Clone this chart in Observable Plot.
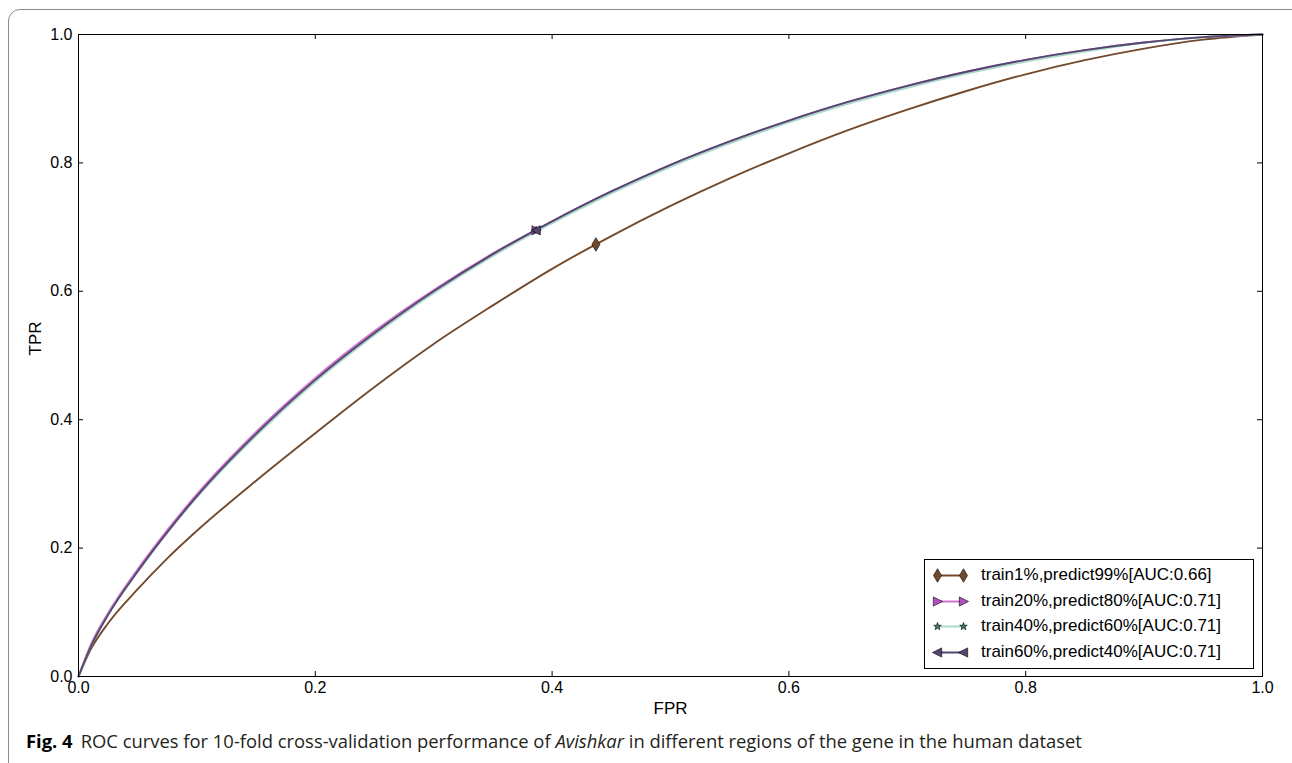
<!DOCTYPE html>
<html>
<head>
<meta charset="utf-8">
<script src="https://cdn.jsdelivr.net/npm/d3@7"></script>
<script src="https://cdn.jsdelivr.net/npm/@observablehq/plot@0.6"></script>
<style>
  html, body { margin: 0; padding: 0; background: #fff; overflow: hidden; }
  #page { position: relative; width: 1292px; height: 763px; overflow: hidden; }
  #border { position: absolute; left: 8px; top: 9px; width: 1320px; height: 800px;
            border: 1.5px solid #8a8a8a; border-radius: 12px; box-sizing: border-box; }
  #chart { position: absolute; left: 0; top: 0; }
  #legend { position: absolute; left: 924px; top: 559px; width: 330px; height: 110px;
            box-sizing: border-box; border: 1px solid #000; background: #fff;
            font-family: "Liberation Sans", Arial, sans-serif; font-size: 17px; color: #000; }
  .row { position: absolute; left: 8px; height: 20px; display: flex; align-items: center; }
  .row svg { margin-right: 14px; }
  #caption { position: absolute; left: 26px; top: 728px; font-family: "Open Sans", "Noto Sans", sans-serif;
             font-size: 18.4px; line-height: 25px; color: #231f20; white-space: nowrap; }
  #caption b { font-weight: 700; color: #000; margin-right: 8px; }
</style>
</head>
<body>
<div id="page">
  <div id="border"></div>
  <div id="chart"></div>
  <div id="legend"></div>
  <div id="caption"><b>Fig. 4</b>ROC curves for 10-fold cross-validation performance of <i>Avishkar</i> in different regions of the gene in the human dataset</div>
</div>
<script>
// ---- data ----
const seriesNames = [
  "train1%,predict99%[AUC:0.66]",
  "train20%,predict80%[AUC:0.71]",
  "train40%,predict60%[AUC:0.71]",
  "train60%,predict40%[AUC:0.71]"
];
const fprGrid = [0, 0.01, 0.025, 0.05, 0.075, 0.1, 0.15, 0.2, 0.25, 0.3, 0.35, 0.4, 0.45, 0.5, 0.55, 0.6, 0.65, 0.7, 0.75, 0.8, 0.85, 0.9, 0.95, 1];

const tpr1 = [0, 0.041, 0.083, 0.136, 0.184, 0.227, 0.305, 0.379, 0.451, 0.518, 0.578, 0.635, 0.686, 0.733, 0.776, 0.815, 0.851, 0.883, 0.912, 0.938, 0.960, 0.978, 0.992, 1];
const tpr2 = [0, 0.048, 0.099, 0.167, 0.228, 0.284, 0.381, 0.465, 0.538, 0.602, 0.659, 0.709, 0.7555, 0.797, 0.8335, 0.866, 0.895, 0.920, 0.942, 0.9605, 0.9756, 0.9875, 0.9959, 1];
const tpr3 = [0, 0.045, 0.096, 0.163, 0.224, 0.279, 0.375, 0.459, 0.532, 0.597, 0.655, 0.706, 0.7525, 0.794, 0.8305, 0.863, 0.892, 0.917, 0.939, 0.9578, 0.9735, 0.9870, 0.9957, 1];
const tpr4 = [0, 0.045, 0.096, 0.164, 0.225, 0.281, 0.378, 0.462, 0.535, 0.600, 0.658, 0.709, 0.7555, 0.797, 0.8335, 0.866, 0.895, 0.920, 0.942, 0.9605, 0.9756, 0.9875, 0.9959, 1];

const markerFpr = [0.437, 0.3865, 0.3865, 0.3865];
const markerTpr = [0.673, 0.695, 0.695, 0.695];

const xTicks = [0, 0.2, 0.4, 0.6, 0.8, 1.0];
const yTicks = [0, 0.2, 0.4, 0.6, 0.8, 1.0];

// ---- styles ----
const lineColors = ["#734a2c", "#d271d2", "#a9d9c9", "#54466f"];
const markerFill = ["#734a2c", "#b54cc4", "#3f7a66", "#54466f"];

// custom marker shapes
const thinDiamond = { draw(c, size) { const s = Math.sqrt(size / Math.PI);
  c.moveTo(0, -1.7 * s); c.lineTo(1.0 * s, 0); c.lineTo(0, 1.7 * s); c.lineTo(-1.0 * s, 0); c.closePath(); } };
const triRight = { draw(c, size) { const s = Math.sqrt(size / Math.PI);
  c.moveTo(1.2 * s, 0); c.lineTo(-1.0 * s, -1.1 * s); c.lineTo(-1.0 * s, 1.1 * s); c.closePath(); } };
const triLeft = { draw(c, size) { const s = Math.sqrt(size / Math.PI);
  c.moveTo(-1.2 * s, 0); c.lineTo(1.0 * s, -1.1 * s); c.lineTo(1.0 * s, 1.1 * s); c.closePath(); } };
const star5 = { draw(c, size) { const s = Math.sqrt(size / Math.PI);
  for (let i = 0; i < 10; i++) { const r = (i % 2 ? 0.45 : 1.1) * s; const a = -Math.PI / 2 + i * Math.PI / 5;
    i ? c.lineTo(r * Math.cos(a), r * Math.sin(a)) : c.moveTo(r * Math.cos(a), r * Math.sin(a)); } c.closePath(); } };
const shapes = [thinDiamond, triRight, star5, triLeft];
const markerR = [4, 4.2, 3.6, 4.2];

// ---- build tables ----
const tprs = [tpr1, tpr2, tpr3, tpr4];
const curves = tprs.map((t, k) => fprGrid.map((x, i) => ({ fpr: x, tpr: t[i], k })));
const markers = markerFpr.map((x, k) => ({ fpr: x, tpr: markerTpr[k], k }));

const W = 1292, H = 720;
const mL = 78, mR = 30, mT = 34, mB = 44;
const ph = H - mT - mB, pw = W - mL - mR;
const tickLen = 5;
const font = "Liberation Sans, Arial, sans-serif";

const marks = [];
curves.forEach((data, k) => {
  marks.push(Plot.line(data, { x: "fpr", y: "tpr", stroke: lineColors[k], strokeWidth: 1.9, curve: "monotone-x" }));
});
markers.forEach((m, k) => {
  marks.push(Plot.dot([m], { x: "fpr", y: "tpr", symbol: () => shapes[k], r: markerR[k],
    fill: markerFill[k], stroke: "#000", strokeWidth: 0.6 }));
});
// inward ticks on all four sides
marks.push(Plot.tickX(xTicks, { x: d => d, insetTop: ph - tickLen, stroke: "#000" }));
marks.push(Plot.tickX(xTicks, { x: d => d, insetBottom: ph - tickLen, stroke: "#000" }));
marks.push(Plot.tickY(yTicks, { y: d => d, insetRight: pw - tickLen, stroke: "#000" }));
marks.push(Plot.tickY(yTicks, { y: d => d, insetLeft: pw - tickLen, stroke: "#000" }));
marks.push(Plot.frame({ stroke: "#000", strokeWidth: 1 }));
marks.push(Plot.axisX({ ticks: xTicks, tickSize: 0, tickPadding: 5, tickFormat: d3.format(".1f"), label: null, fontSize: 16 }));
marks.push(Plot.axisY({ ticks: yTicks, tickSize: 0, tickPadding: 6, tickFormat: d3.format(".1f"), label: null, fontSize: 16 }));
marks.push(Plot.text(["FPR"], { frameAnchor: "bottom", dy: 37, fontSize: 17, fill: "#000" }));
marks.push(Plot.text(["TPR"], { frameAnchor: "left", dx: -43, rotate: -90, fontSize: 17, fill: "#000" }));

const chart = Plot.plot({
  width: W, height: H,
  marginLeft: mL, marginRight: mR, marginTop: mT, marginBottom: mB,
  style: { fontFamily: font, color: "#000", background: "transparent", overflow: "visible" },
  x: { domain: [0, 1] },
  y: { domain: [0, 1] },
  marks
});
document.getElementById("chart").appendChild(chart);

// ---- legend ----
const legend = document.getElementById("legend");
const rowTops = [5, 31, 56, 82];
seriesNames.forEach((name, k) => {
  const row = document.createElement("div");
  row.className = "row";
  row.style.top = rowTops[k] + "px";
  const sw = Plot.plot({
    width: 34, height: 20, margin: 0, axis: null,
    x: { domain: [0, 1], range: [4, 30] }, y: { domain: [0, 1], range: [20, 0] },
    style: { background: "transparent", overflow: "visible" },
    marks: [
      Plot.line([{ a: 0, b: 0.5 }, { a: 1, b: 0.5 }], { x: "a", y: "b", stroke: lineColors[k], strokeWidth: 1.9 }),
      Plot.dot([{ a: 0, b: 0.5 }, { a: 1, b: 0.5 }], { x: "a", y: "b", symbol: () => shapes[k], r: markerR[k],
        fill: markerFill[k], stroke: "#000", strokeWidth: 0.6 })
    ]
  });
  row.appendChild(sw);
  const t = document.createElement("span");
  t.textContent = name;
  row.appendChild(t);
  legend.appendChild(row);
});
</script>
</body>
</html>
